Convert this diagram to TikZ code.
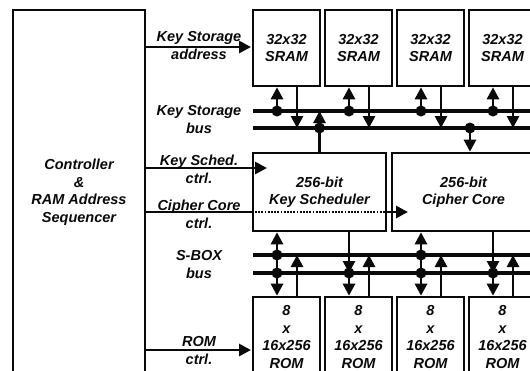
\documentclass[tikz,border=0pt]{standalone}
\usepackage{fontspec}
\setmainfont{Liberation Sans}
\usetikzlibrary{arrows.meta, calc}
\definecolor{ink}{HTML}{0A0A0A}
\definecolor{paper}{HTML}{FFFFFF}
\tikzset{
  blk/.style={draw=ink, fill=paper, line width=2.6pt, align=center, inner sep=0pt,
              font=\fontsize{14.5}{17.5}\selectfont\bfseries\itshape, text=ink},
  lbl/.style={align=center, inner sep=0pt,
              font=\fontsize{14.5}{18}\selectfont\bfseries\itshape, text=ink},
  bus/.style={line width=3.2pt, draw=ink},
  wire/.style={line width=2.8pt, draw=ink},
  fl/.style={-{Triangle[length=12pt, width=12pt]}, line width=2.8pt, draw=ink},
  dotw/.style={line width=2.8pt, draw=ink, dash pattern=on 1.8pt off 1.4pt},
}

\begin{document}
\begin{tikzpicture}[x=1pt, y=-1pt]
    \useasboundingbox (0,0) rectangle (530,370);
    \clip (0,0) rectangle (530,370);
    \fill[paper] (0,0) rectangle (530,370);
    \node[blk, minimum width=132, minimum height=364] (ctl) at (79,192) {Controller\\\&\\RAM Address\\Sequencer};
    \foreach \i/\l in {1/253,2/325,3/397,4/469} {
      \node[blk, minimum width=67, minimum height=76] (s\i) at (\l+33.5,48) {32x32\\SRAM};
      \node[blk, minimum width=67, minimum height=80] (r\i) at (\l+33.5,337) {8\\x\\16x256\\ROM};
      \coordinate (a\i) at (\l+24,0); \coordinate (b\i) at (\l+44,0);
    }
    \node[blk, minimum width=133, minimum height=78] (ks) at (319.5,192) {256-bit\\Key Scheduler};
    \node[blk, minimum width=143, minimum height=78] (cc) at (463.5,192) {256-bit\\Cipher Core};

    \node[lbl] (lka) at (199,46) {Key Storage\\address};
    \node[lbl] (lkb) at (199,120) {Key Storage\\bus};
    \node[lbl] (lks) at (199,169) {Key Sched.\\ctrl.};
    \node[lbl] (lcc) at (199,214) {Cipher Core\\ctrl.};
    \node[lbl] (lsb) at (199,265) {S-BOX\\bus};
    \node[lbl] (lrc) at (199,351) {ROM\\ctrl.};

    \coordinate (ku) at (253,111); \coordinate (kl) at (253,128);
    \coordinate (su) at (253,255); \coordinate (sl) at (253,273);
    \coordinate (kin) at (267,168); \coordinate (cin) at (408,212);
    \coordinate (sin) at (251,47); \coordinate (rin) at (251,350);
    \coordinate (ct) at (470,0);

    \draw[bus] (ku) -- ++(290,0); \draw[bus] (kl) -- ++(290,0);
    \draw[bus] (su) -- ++(290,0); \draw[bus] (sl) -- ++(290,0);

    \draw[fl] (ctl.east |- sin) -- (sin); \draw[fl] (ctl.east |- kin) -- (kin);
    \draw[wire] (ctl.east |- cin) -- (ks.west |- cin); \draw[dotw] (ks.west |- cin) -- (ks.east |- cin);
    \draw[fl] (ks.east |- cin) -- (cin); \draw[fl] (ctl.east |- rin) -- (rin);

    \foreach \i in {1,...,4} {
      \draw[fl] (ku -| a\i) -- (s\i.south -| a\i); \fill[ink] (ku -| a\i) circle (5.5);
      \draw[fl] (s\i.south -| b\i) -- (kl -| b\i);
      \draw[fl] (r\i.north -| b\i) -- (su -| b\i);
      \draw[fl] (sl -| a\i) -- (r\i.north -| a\i); \fill[ink] (sl -| a\i) circle (5.5);
    }
    \draw[fl] (ks.north) -- (ks.north |- ku); \fill[ink] (ks.north |- kl) circle (5.5);
    \draw[fl] (kl -| ct) -- (cc.north -| ct); \fill[ink] (kl -| ct) circle (5.5);

    \foreach \i/\m in {1/ks,3/cc} {
      \draw[fl] (su -| a\i) -- (\m.south -| a\i); \draw[wire] (su -| a\i) -- (sl -| a\i);
      \fill[ink] (su -| a\i) circle (5.5);
    }
    \foreach \i/\m in {2/ks,4/cc} {
      \draw[fl] (\m.south -| a\i) -- (sl -| a\i);
    }
\end{tikzpicture}
\end{document}
